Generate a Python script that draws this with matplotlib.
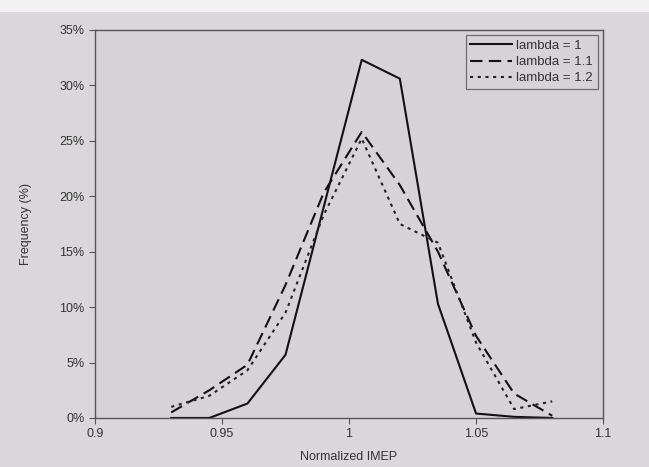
import numpy as np
import matplotlib.pyplot as plt
from matplotlib.patches import Rectangle
from matplotlib.ticker import PercentFormatter

plt.rcParams['font.family'] = ['Liberation Sans', 'DejaVu Sans']

# bin centres of normalized IMEP
imep = [0.93, 0.945, 0.96, 0.975, 0.99, 1.005, 1.02, 1.035, 1.05, 1.065, 1.08]

# frequency (%) per lambda
freq_l10 = [0.0, 0.0, 1.3, 5.7, 19.0, 32.3, 30.6, 10.3, 0.4, 0.1, 0.0]
freq_l11 = [0.5, 2.5, 4.8, 12.0, 20.3, 25.8, 21.0, 15.0, 7.4, 2.2, 0.2]
freq_l12 = [1.0, 2.0, 4.3, 9.5, 18.3, 25.2, 17.5, 15.8, 6.8, 0.8, 1.5]

labels = ["lambda = 1", "lambda = 1.1", "lambda = 1.2"]

xticks = [0.9, 0.95, 1.0, 1.05, 1.1]
xticklabels = ["0.9", "0.95", "1", "1.05", "1.1"]

fig = plt.figure(figsize=(6.49, 4.67), dpi=100, facecolor='#d9d7d9')
# light band at the top of the scan
fig.patches.append(Rectangle((0, 0.975), 1, 0.025, transform=fig.transFigure,
                             facecolor='#f2f1f2', edgecolor='none', zorder=0))

ax = fig.add_axes([0.1464, 0.105, 0.7828, 0.831])
ax.set_facecolor('#d5d3d5')

ax.plot(imep, freq_l10, color='#111111', lw=1.5, linestyle='-', label=labels[0])
ax.plot(imep, freq_l11, color='#111111', lw=1.5, linestyle=(0, (6, 3)), label=labels[1])
ax.plot(imep, freq_l12, color='#222222', lw=1.5, linestyle=(0, (1.5, 2.2)), label=labels[2])

ax.set_xlim(0.9, 1.1)
ax.set_ylim(0, 35)
ax.set_xticks(xticks)
ax.set_xticklabels(xticklabels)
ax.set_yticks(np.arange(0, 36, 5))
ax.yaxis.set_major_formatter(PercentFormatter(decimals=0))

ax.tick_params(axis='both', direction='out', length=4, width=0.8, colors='#555555',
               labelsize=9, labelcolor='#333333')
for s in ax.spines.values():
    s.set_color('#555555')
    s.set_linewidth(1.0)

ax.set_xlabel("Normalized IMEP", fontsize=9, color='#333333', labelpad=8)
ax.set_ylabel("Frequency (%)", fontsize=9, color='#333333', labelpad=20)

leg = ax.legend(loc='upper right', fontsize=9.5, frameon=True, fancybox=False,
                handlelength=3.2, handletextpad=0.3, borderpad=0.35, labelspacing=0.3,
                borderaxespad=0.4)
leg.get_frame().set_edgecolor('#555555')
leg.get_frame().set_facecolor('#d5d3d5')
leg.get_frame().set_linewidth(0.9)
for t in leg.get_texts():
    t.set_color('#333333')

fig.savefig("out.png", dpi=100, facecolor=fig.get_facecolor())
